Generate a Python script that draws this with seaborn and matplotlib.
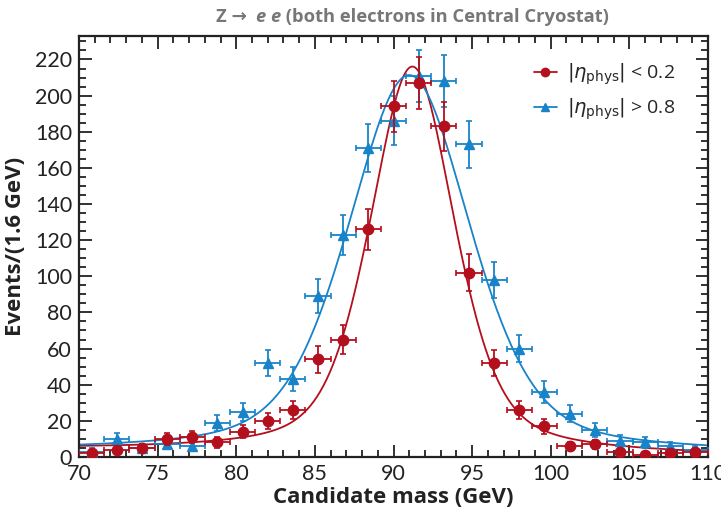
import matplotlib
matplotlib.use('agg')
import matplotlib.pyplot as plt
from matplotlib.ticker import MultipleLocator
import numpy as np
import pandas as pd
import seaborn as sns

# bin centres (1.6 GeV bins from 70 to 110)
mass = [70.8, 72.4, 74.0, 75.6, 77.2, 78.8, 80.4, 82.0, 83.6, 85.2, 86.8, 88.4, 90.0,
        91.6, 93.2, 94.8, 96.4, 98.0, 99.6, 101.2, 102.8, 104.4, 106.0, 107.6, 109.2]
half_bin = 0.8

central = [2, 4, 5, 10, 11, 8, 14, 20, 26, 54, 65, 126, 194,
           207, 183, 102, 52, 26, 17, 6, 7, 3, 1, 2, 3]
central_err = [1.4, 2.0, 2.2, 3.2, 3.3, 2.8, 3.7, 4.5, 5.1, 7.3, 8.1, 11.2, 13.9,
               14.4, 13.5, 10.1, 7.2, 5.1, 4.1, 2.4, 2.6, 1.7, 1.0, 1.4, 1.7]
forward = [3, 10, 5, 7, 6, 19, 25, 52, 43, 89, 123, 171, 186,
           211, 208, 173, 98, 60, 36, 24, 15, 9, 8, 6, 4]
forward_err = [1.7, 3.2, 2.2, 2.6, 2.4, 4.4, 5.0, 7.2, 6.6, 9.4, 11.1, 13.1, 13.6,
               14.5, 14.4, 13.2, 9.9, 7.7, 6.0, 4.9, 3.9, 3.0, 2.8, 2.4, 2.0]

# fit parameters: amplitude, mean, fwhm, lorentz fraction, bkg at 70, bkg slope
fit_central = dict(amp=214, mu=91.2, fwhm=6.4, eta=0.45, b0=4.0, b1=-0.09)
fit_forward = dict(amp=209, mu=91.0, fwhm=9.2, eta=0.40, b0=3.0, b1=-0.03)

labels = [r"$|\eta_{\mathrm{phys}}|$ < 0.2", r"$|\eta_{\mathrm{phys}}|$ > 0.8"]
red = "#b30f1c"
blue = "#1883c9"
ink = "#222222"


def fit_curve(x, amp, mu, fwhm, eta, b0, b1):
    sig = fwhm / 2.3548
    gam = fwhm / 2
    lor = 1 / (1 + ((x - mu) / gam) ** 2)
    gau = np.exp(-0.5 * ((x - mu) / sig) ** 2)
    return amp * (eta * lor + (1 - eta) * gau) + b0 + b1 * (x - 70)


sns.set_style("ticks")
plt.rcParams['font.family'] = ['Open Sans', 'DejaVu Sans']
plt.rcParams['mathtext.fontset'] = 'dejavusans'

fig = plt.figure(figsize=(7.21, 5.14), dpi=100)
ax = fig.add_axes([0.1096, 0.111, 0.8724, 0.819])

xs = np.linspace(70, 110, 400)
curves = pd.DataFrame({
    "x": np.concatenate([xs, xs]),
    "y": np.concatenate([fit_curve(xs, **fit_central), fit_curve(xs, **fit_forward)]),
    "sel": ["c"] * len(xs) + ["f"] * len(xs),
})
sns.lineplot(data=curves, x="x", y="y", hue="sel", palette={"c": red, "f": blue},
             lw=1.3, legend=False, ax=ax, zorder=2)

ax.errorbar(mass, forward, yerr=forward_err, xerr=half_bin, fmt="^", color=blue,
            ms=7.5, elinewidth=1.3, capsize=2.5, capthick=1.2, zorder=3)
ax.errorbar(mass, central, yerr=central_err, xerr=half_bin, fmt="o", color=red,
            ms=7.5, elinewidth=1.3, capsize=2.5, capthick=1.2, zorder=4)

# legend handles
h1 = ax.plot([], [], "-o", color=red, ms=6, lw=1.3)[0]
h2 = ax.plot([], [], "-^", color=blue, ms=6, lw=1.3)[0]
ax.legend([h1, h2], labels, loc="upper right", frameon=False, fontsize=14,
          handlelength=1.2, handletextpad=0.5, labelspacing=0.45,
          bbox_to_anchor=(0.975, 0.98))

ax.set_xlim(70, 110)
ax.set_ylim(0, 233)
ax.xaxis.set_major_locator(MultipleLocator(5))
ax.xaxis.set_minor_locator(MultipleLocator(1))
ax.yaxis.set_major_locator(MultipleLocator(20))
ax.yaxis.set_minor_locator(MultipleLocator(5))
ax.tick_params(which="both", direction="in", top=True, right=True, width=1.3,
               labelsize=14, colors=ink)
ax.tick_params(which="major", length=9, pad=5)
ax.tick_params(which="minor", length=5)
for lab in ax.get_xticklabels() + ax.get_yticklabels():
    lab.set_family(['Lato', 'DejaVu Sans'])
    lab.set_fontsize(15.5)
for s in ax.spines.values():
    s.set_linewidth(1.6)
    s.set_color(ink)

ax.set_xlabel("Candidate mass (GeV)", fontsize=16, fontweight="bold", labelpad=2,
              color=ink)
ax.set_ylabel("Events/(1.6 GeV)", fontsize=16, fontweight="bold", labelpad=6,
              color=ink)

# title in three pieces so the "e e" can be bold italic
title_parts = [("Z \u2192  ", "normal"), ("e e", "italic"),
               (" (both electrons in Central Cryostat)", "normal")]
renderer = fig.canvas.get_renderer()
pieces = []
for txt, sty in title_parts:
    pieces.append(fig.text(0, 0.967, txt, ha="left", va="center", fontsize=13.2,
                           fontweight="bold", style=sty, color="#777777"))
widths = [p.get_window_extent(renderer).width for p in pieces]
x0 = (fig.bbox.width * 0.572 - sum(widths) / 2)
for p, w in zip(pieces, widths):
    p.set_x(x0 / fig.bbox.width)
    x0 += w

plt.savefig("out.png", dpi=100)
plt.close()
